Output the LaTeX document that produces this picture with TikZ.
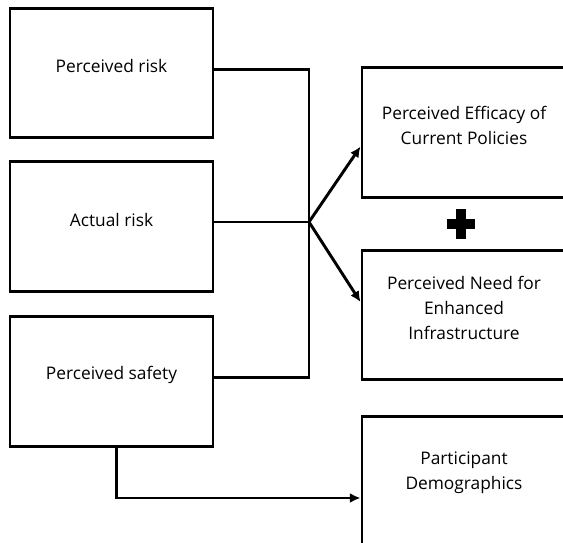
\documentclass[tikz,border=0pt]{standalone}
\usepackage{fontspec}
\setmainfont{Open Sans}
\usetikzlibrary{arrows.meta,positioning}

\begin{document}
\begin{tikzpicture}[x=0.75pt,y=-0.75pt,
    box/.style={draw,line width=2.2pt,minimum width=152.25pt,minimum height=97pt,inner sep=0pt},
    rbox/.style={box,minimum width=153pt},
    lbl/.style={align=center,font=\fontsize{13}{18.75}\selectfont,yshift=5pt},
    link/.style={line width=2.2pt},
    arr/.style={link,-{Latex[length=8pt,width=7.5pt]}}]
      \useasboundingbox (0,0) rectangle (563,542);
      \clip (0,0) rectangle (563,542);

      \coordinate (hub) at (309,222);
      \coordinate (plus) at (461,224);

      \node[box,label={[lbl]center:Perceived risk}] (risk) at (111.5,73) {};
      \node[box,label={[lbl]center:Actual risk}] (actual) at (111.5,226.5) {};
      \node[box,label={[lbl]center:Perceived safety}] (safety) at (111.5,381.5) {};

      \node[rbox,label={[lbl]center:{Perceived Efficacy of\\Current Policies}}] (efficacy) at (464,132.5) {};
      \node[rbox,label={[lbl]center:{Perceived Need for\\Enhanced\\Infrastructure}}] (need) at (464,315) {};
      \node[rbox,label={[lbl,yshift=1.5pt]center:{Participant\\Demographics}}] (demo) at (464,481) {};

      \draw[link] ([yshift=2.5pt]risk.east) -| (hub) |- ([yshift=3pt]safety.east);
      \draw[link] (actual.east |- hub) -- (hub);

      \draw[arr] (hub) -- ([yshift=-10.5pt]efficacy.west);
      \draw[arr] (hub) -- ([yshift=9.75pt]need.west);
      \draw[arr] ([xshift=4pt]safety.south) |- ([yshift=-12.75pt]demo.west);

      \fill ([shift={(-14,-5)}]plus) rectangle ([shift={(14,5)}]plus);
      \fill ([shift={(-5,-15)}]plus) rectangle ([shift={(5,15)}]plus);
    \end{tikzpicture}
\end{document}
